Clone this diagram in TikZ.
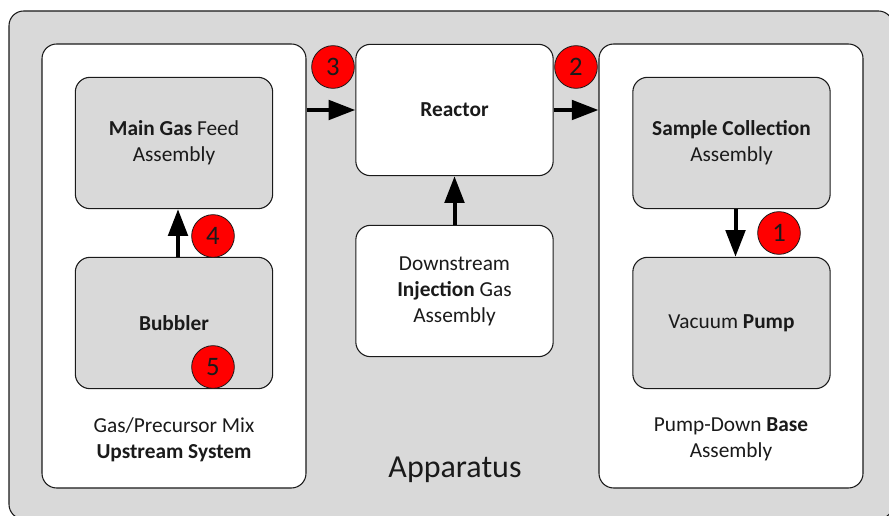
\documentclass[tikz,border=0pt]{standalone}
\usepackage{fontspec}
\setmainfont{Carlito}
\usetikzlibrary{arrows.meta,positioning}
\definecolor{panel}{HTML}{D9D9D9}
\definecolor{ink}{HTML}{1A1A1A}
\definecolor{dot}{HTML}{FF0000}
\tikzset{outer/.style={draw=ink,fill=panel,line width=.8pt,rounded corners=11pt},
  grp/.style={draw=ink,fill=white,line width=.8pt,rounded corners=11pt,
    minimum width=198pt,minimum height=333pt,inner sep=0pt},
  blk/.style={draw=ink,fill=white,line width=.8pt,rounded corners=11pt,
    minimum width=148pt,minimum height=98.5pt,align=center,text=ink,
    font=\fontsize{16}{19.5}\selectfont},
  sub/.style={blk,fill=panel},
  lbl/.style={align=center,text=ink,font=\fontsize{16}{19.5}\selectfont},
  badge/.style={circle,draw=ink,fill=dot,line width=.6pt,minimum size=32pt,
    inner sep=0pt,text=ink,font=\fontsize{20}{20}\selectfont},
  flow/.style={line width=3pt,draw=black,-{Triangle[length=20pt,width=14.5pt]}}}
\begin{document}
\begin{tikzpicture}[x=0.75pt,y=-0.75pt]
\useasboundingbox (0,0) rectangle (889,516);
\draw[outer] (9,11) rectangle (893,519);
\node[lbl,font=\fontsize{24}{24}\selectfont] (app) at (455,470) {Apparatus};

% the three columns
\node[grp] (upgrp) at (174,266) {};
\node[grp] (downgrp) at (731,266) {};
\node[blk] (reactor) at (454.5,110) {\textbf{Reactor}};
\node[blk] (inject) at (454.5,291) {Downstream\\\textbf{Injection} Gas\\Assembly};

\node[sub] (maingas) at (174,143) {\textbf{Main Gas} Feed\\Assembly};
\node[sub] (bubbler) at (174,323) {\textbf{Bubbler}};
\node[lbl] (uplbl) at (174,439.5) {Gas/Precursor Mix\\\textbf{Upstream System}};

\node[sub] (sample) at (731.5,143) {\textbf{Sample Collection}\\Assembly};
\node[sub] (vacuum) at (731.5,323) {Vacuum \textbf{Pump}};
\node[lbl] (downlbl) at (731,439.5) {Pump-Down \textbf{Base}\\Assembly};

% flows
\draw[flow] (reactor.west -| upgrp.east) -- (reactor.west);
\draw[flow] (reactor.east) -- (reactor.east -| downgrp.west);
\draw[flow] ([xshift=3pt]bubbler.north) -- ([xshift=3pt]maingas.south);
\draw[flow] ([xshift=3pt]sample.south) -- ([xshift=3pt]vacuum.north);
\draw[flow] (inject.north) -- (reactor.south);

\foreach \n/\x/\y in {1/779/233,2/576/67,3/333/67,4/213/236,5/213/367}{
 \node[badge] (b\n) at (\x,\y) {\n};}
\end{tikzpicture}
\end{document}
